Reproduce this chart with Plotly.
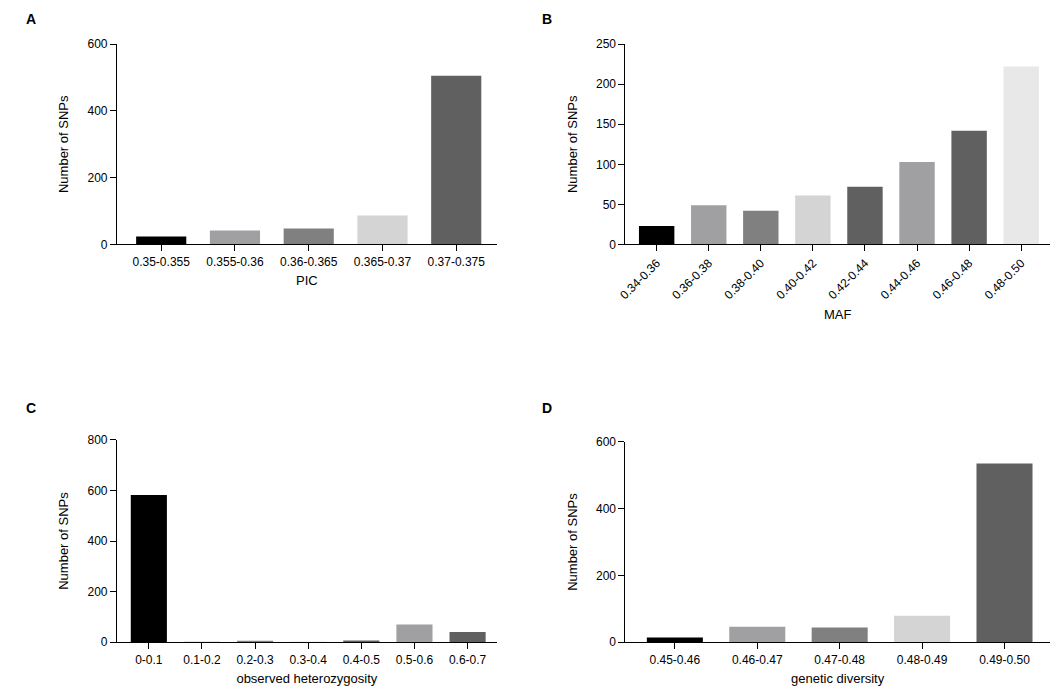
import plotly.graph_objects as go
from plotly.subplots import make_subplots

# panel data
pic_cats = ["0.35-0.355", "0.355-0.36", "0.36-0.365", "0.365-0.37", "0.37-0.375"]
pic_vals = [24, 42, 48, 87, 505]

maf_cats = ["0.34-0.36", "0.36-0.38", "0.38-0.40", "0.40-0.42", "0.42-0.44",
            "0.44-0.46", "0.46-0.48", "0.48-0.50"]
maf_vals = [23, 49, 42, 61, 72, 103, 142, 222]

ho_cats = ["0-0.1", "0.1-0.2", "0.2-0.3", "0.3-0.4", "0.4-0.5", "0.5-0.6", "0.6-0.7"]
ho_vals = [582, 1, 2, 1, 7, 70, 40]

gd_cats = ["0.45-0.46", "0.46-0.47", "0.47-0.48", "0.48-0.49", "0.49-0.50"]
gd_vals = [14, 46, 44, 79, 535]

BLK, G1, G2, G3, G4, G5 = "#000000", "#a0a0a3", "#808080", "#d4d4d4", "#606060", "#e8e8e8"
pic_cols = [BLK, G1, G2, G3, G4]
maf_cols = [BLK, G1, G2, G3, G4, G1, G4, G5]
ho_cols = [BLK, G1, G2, G3, G4, G1, G4]
gd_cols = [BLK, G1, G2, G3, G4]

fig = make_subplots(rows=2, cols=2)
panels = [
    (1, 1, pic_cats, pic_vals, pic_cols, "PIC", [0, 600], 200, 0),
    (1, 2, maf_cats, maf_vals, maf_cols, "MAF", [0, 250], 50, -45),
    (2, 1, ho_cats, ho_vals, ho_cols, "observed heterozygosity", [0, 800], 200, 0),
    (2, 2, gd_cats, gd_vals, gd_cols, "genetic diversity", [0, 600], 200, 0),
]
for r, c, cats, vals, cols, xt, yr, dt, ang in panels:
    fig.add_trace(go.Bar(x=cats, y=vals, marker=dict(color=cols, line=dict(width=0)),
                         width=0.68, showlegend=False), row=r, col=c)
    fig.update_xaxes(title_text=xt, title_font=dict(size=13), range=[-0.6, len(cats) - 0.45],
                     tickangle=ang, showline=True, linecolor="black", ticks="outside",
                     tickcolor="black", ticklen=6, showgrid=False, title_standoff=8, row=r, col=c)
    fig.update_yaxes(title_text="Number of SNPs", title_font=dict(size=13), range=yr, dtick=dt,
                     showline=True, linecolor="black", ticks="outside", tickcolor="black",
                     ticklen=6, showgrid=False, zeroline=False, row=r, col=c)

fig.update_layout(
    xaxis=dict(domain=[0.0956, 0.4553]), yaxis=dict(domain=[0.6650, 0.9576]),
    xaxis2=dict(domain=[0.5771, 0.979]), yaxis2=dict(domain=[0.6650, 0.9576]),
    xaxis3=dict(domain=[0.0956, 0.4553]), yaxis3=dict(domain=[0.0844, 0.3798]),
    xaxis4=dict(domain=[0.5771, 0.979]), yaxis4=dict(domain=[0.0844, 0.3768]),
    width=1064, height=699, margin=dict(l=0, r=0, t=0, b=0),
    plot_bgcolor="white", paper_bgcolor="white", bargap=0.3,
    font=dict(family="Liberation Sans, Arial", size=12, color="black"),
)
for txt, x, y in [("A", 0.0141, 0.994), ("B", 0.503, 0.994), ("C", 0.0141, 0.426), ("D", 0.503, 0.426)]:
    fig.add_annotation(text="<b>%s</b>" % txt, x=x, y=y, xref="paper", yref="paper",
                       xanchor="center", yanchor="middle", showarrow=False, font=dict(size=14))

fig.write_html("out.html")
